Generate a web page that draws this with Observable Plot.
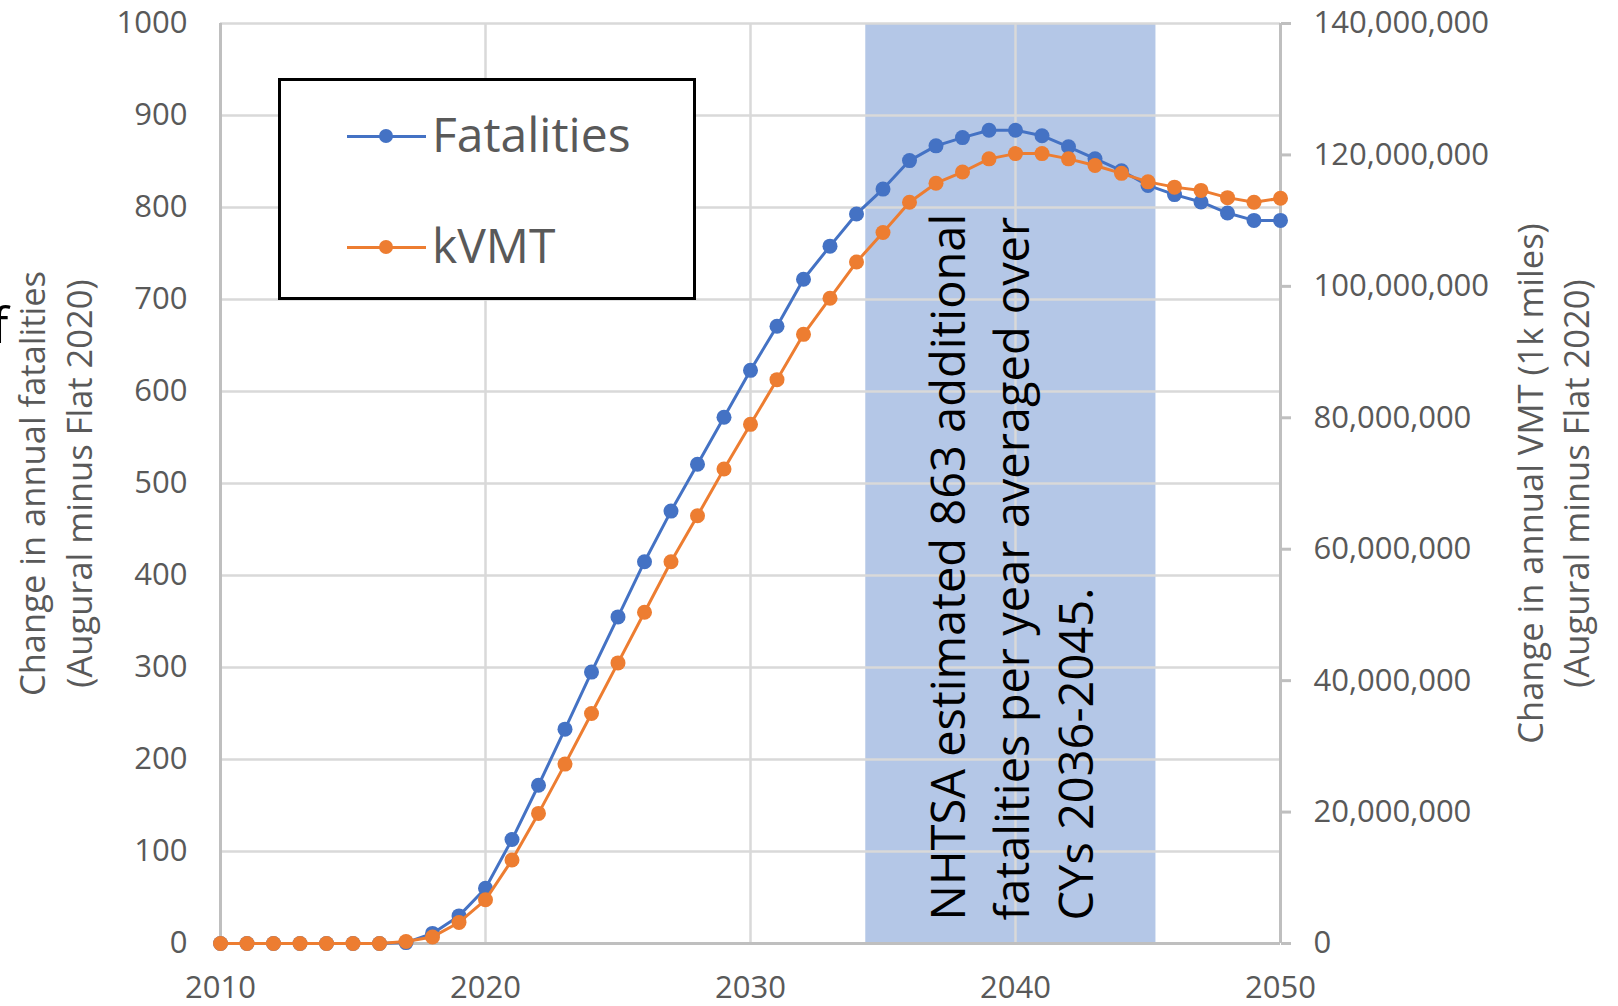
<!DOCTYPE html>
<html><head><meta charset="utf-8">
<script src="https://cdn.jsdelivr.net/npm/d3@7"></script>
<script src="https://cdn.jsdelivr.net/npm/@observablehq/plot@0.6"></script>
<style>
body{margin:0;background:#fff;}
#wrap{position:relative;width:1618px;height:1006px;overflow:hidden;font-family:"Open Sans",sans-serif;}
#wrap svg{position:absolute;left:0;top:0;}
#legend{position:absolute;left:278px;top:78px;width:418px;height:222px;box-sizing:border-box;border:3px solid #000;background:#fff;}
.lg-line{position:absolute;height:3px;}
.lg-dot{position:absolute;width:14px;height:14px;border-radius:50%;}
.lg-text{position:absolute;font-size:48px;line-height:48px;color:#595959;white-space:nowrap;}
</style></head><body><div id="wrap"></div><script>
// ---- data ----
const years = [2010,2011,2012,2013,2014,2015,2016,2017,2018,2019,2020,2021,2022,2023,2024,2025,2026,2027,2028,2029,2030,2031,2032,2033,2034,2035,2036,2037,2038,2039,2040,2041,2042,2043,2044,2045,2046,2047,2048,2049,2050];
const fatalities = [0,0,0,0,0,0,0,1,11,30,60,113,172,233,295,355,415,470,521,572,623,671,722,758,793,820,851,867,876,884,884,878,866,853,840,824,814,806,794,786,786];
const kVMT = [0,0,0,0,0,0,0,300000,1000000,3200000,6650000,12700000,19800000,27300000,35000000,42700000,50400000,58100000,65100000,72200000,79000000,85800000,92700000,98200000,103700000,108200000,112800000,115700000,117400000,119400000,120200000,120200000,119400000,118400000,117200000,115900000,115100000,114600000,113500000,112800000,113400000];
const seriesNames = ["Fatalities", "kVMT"];
const seriesColors = ["#4472C4", "#ED7D31"];
const leftTicks = [0,100,200,300,400,500,600,700,800,900,1000];
const rightTicks = [0,20000000,40000000,60000000,80000000,100000000,120000000,140000000];
const xTicks = [2010,2020,2030,2040,2050];
const bandFrom = [2034.35];
const bandTo = [2045.3];
const noteLines = ["NHTSA estimated 863 additional", "fatalities per year averaged over", "CYs 2036-2045."];
const noteYear = [2039.75];
const noteValue = [25];
const leftTitle = ["Change in annual fatalities", "(Augural minus Flat 2020)"];
const rightTitle = ["Change in annual VMT (1k miles)", "(Augural minus Flat 2020)"];
const edgeFragment = ["f"];

// ---- build ----
const LEFT_MAX = leftTicks[leftTicks.length-1];
const RIGHT_MAX = rightTicks[rightTicks.length-1];
const toLeft = v => v * LEFT_MAX / RIGHT_MAX;
const rows = years.map((yr,i)=>({year:yr, fat:fatalities[i], vmt:kVMT[i], vmtL: toLeft(kVMT[i])}));
const bands = bandFrom.map((f,i)=>({from:f, to:bandTo[i]}));
const notes = noteYear.map((yr,i)=>({year:yr, value:noteValue[i], text:noteLines.join("\n")}));
const gray = "#595959", gridC = "#d9d9d9", axisC = "#bfbfbf";
const fmtComma = d3.format(",");

const chart = Plot.plot({
  width:1618, height:1006,
  marginLeft:220, marginRight:338, marginTop:23, marginBottom:63,
  x:{domain:[xTicks[0], xTicks[xTicks.length-1]]},
  y:{domain:[0, LEFT_MAX]},
  style:{fontFamily:"'Open Sans', sans-serif", background:"transparent", overflow:"visible"},
  marks:[
    Plot.rect(bands, {x1:"from", x2:"to", fill:"#B4C7E7"}),
    Plot.gridY(leftTicks, {stroke:gridC, strokeWidth:2.5, strokeOpacity:1}),
    Plot.gridX(xTicks, {stroke:gridC, strokeWidth:2.5, strokeOpacity:1}),
    Plot.ruleX([xTicks[0], xTicks[xTicks.length-1]], {stroke:axisC, strokeWidth:3}),
    Plot.ruleY([0], {stroke:axisC, strokeWidth:3}),
    Plot.axisY(leftTicks, {anchor:"left", tickSize:0, tickPadding:33, fontSize:31, fill:gray, tickFormat:"d", label:null}),
    Plot.axisY(rightTicks.map(toLeft), {anchor:"right", tickSize:10, tickPadding:23, fontSize:31, fill:gray, stroke:axisC, strokeWidth:3,
      tickFormat: d => fmtComma(Math.round(d * RIGHT_MAX / LEFT_MAX)), label:null}),
    Plot.axisX(xTicks, {anchor:"bottom", tickSize:0, tickPadding:32, fontSize:31, fill:gray, tickFormat:"d", label:null}),
    Plot.line(rows, {x:"year", y:"fat", stroke:seriesColors[0], strokeWidth:3}),
    Plot.dot(rows, {x:"year", y:"fat", r:7.5, fill:seriesColors[0]}),
    Plot.line(rows, {x:"year", y:"vmtL", stroke:seriesColors[1], strokeWidth:3}),
    Plot.dot(rows, {x:"year", y:"vmtL", r:7.5, fill:seriesColors[1]}),
    Plot.text(notes, {x:"year", y:"value", text:"text", rotate:-90, textAnchor:"start", lineAnchor:"middle", lineHeight:1.36, fontSize:47, fill:"#000"}),
    Plot.text([leftTitle[0]], {text:d=>d, frameAnchor:"left", textAnchor:"middle", dx:-187, rotate:-90, fontSize:34.5, fill:gray}),
    Plot.text([leftTitle[1]], {text:d=>d, frameAnchor:"left", textAnchor:"middle", dx:-140, rotate:-90, fontSize:34.5, fill:gray}),
    Plot.text([rightTitle[0]], {text:d=>d, frameAnchor:"right", textAnchor:"middle", dx:251, rotate:-90, fontSize:34.5, fill:gray}),
    Plot.text([rightTitle[1]], {text:d=>d, frameAnchor:"right", textAnchor:"middle", dx:297, rotate:-90, fontSize:34.5, fill:gray}),
    Plot.text(edgeFragment, {text:d=>d, frameAnchor:"top-left", textAnchor:"start", lineAnchor:"middle", dx:-229, dy:303, fontSize:50, fill:"#000"})
  ]
});
const wrap = document.getElementById("wrap");
wrap.appendChild(chart);

// legend (inside plot area, as in the original)
const lg = document.createElement("div");
lg.id = "legend";
wrap.appendChild(lg);
const itemY = [133, 244];
seriesNames.forEach((name,i)=>{
  const ln = document.createElement("div"); ln.className="lg-line";
  ln.style.cssText = `left:${344-278}px;top:${itemY[i]-1.5-78}px;width:79px;background:${seriesColors[i]}`;
  const dt = document.createElement("div"); dt.className="lg-dot";
  dt.style.cssText = `left:${383-7-278}px;top:${itemY[i]-7-78}px;background:${seriesColors[i]}`;
  const tx = document.createElement("div"); tx.className="lg-text"; tx.textContent = name;
  tx.style.cssText = `left:${429-278}px;top:${itemY[i]+17-43-78}px;`;
  lg.append(ln, dt, tx);
});
</script></body></html>
